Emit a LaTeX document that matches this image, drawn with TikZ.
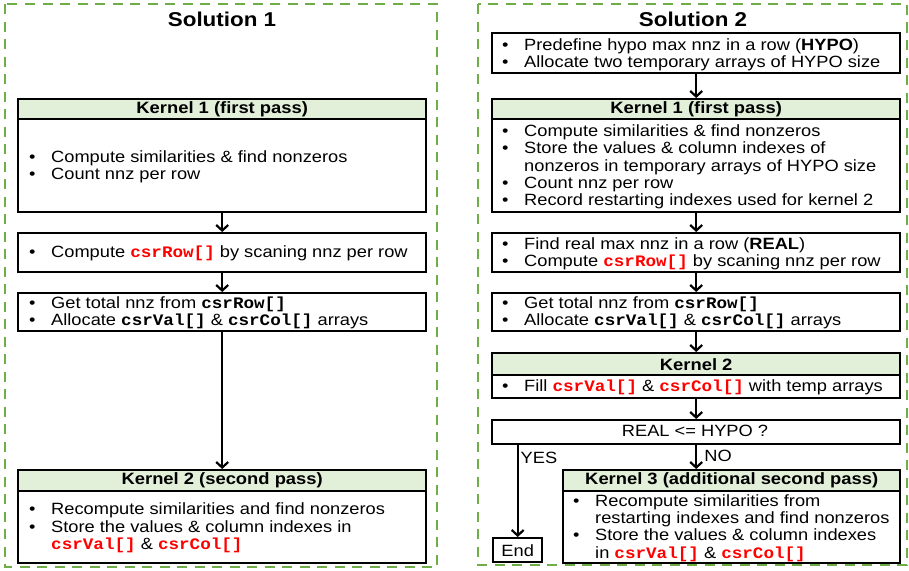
\documentclass[tikz,border=0pt]{standalone}
\usepackage{fontspec}
\setmainfont{Liberation Sans}[FakeStretch=1.12]
\newfontfamily\codefont{Liberation Mono}[FakeStretch=1.1]
\usetikzlibrary{arrows.meta}
\definecolor{dgreen}{HTML}{70AD47}
\definecolor{hdr}{HTML}{E2EFD9}
\definecolor{cred}{HTML}{FF0000}
\newcommand\cd[1]{{\fontsize{16}{17.3}\codefont\bfseries #1}}
\newcommand\rcd[1]{\textcolor{cred}{\cd{#1}}}
\newcommand\itm{\makebox[22pt][l]{\textbullet}}
\newcommand\cnt{\hspace*{22pt}}
\begin{document}
\begin{tikzpicture}[x=1pt,y=-1pt,
  box/.style={draw, line width=2.4pt, inner sep=0pt, anchor=north west},
  hdrbox/.style={box, fill=hdr},
  txt/.style={anchor=west, inner sep=0pt, yshift=-2pt, align=left, font=\fontsize{16.3}{17.3}\selectfont},
  ctxt/.style={inner sep=0pt, font=\fontsize{16.3}{17.3}\selectfont},
  hdrtxt/.style={inner sep=0pt, font=\bfseries\fontsize{16.4}{17}\selectfont},
  ttl/.style={inner sep=0pt, font=\bfseries\fontsize{20}{21}\selectfont},
  arr/.style={line width=2.2pt, -{Straight Barb[length=5.5pt,width=12pt]}},
  frame/.style={draw=dgreen, line width=2.5pt, dash pattern=on 10pt off 7.5pt}]
\useasboundingbox (0,0) rectangle (909,570);

% frames
\draw[frame] (5,4) rectangle (437,567);
\draw[frame] (478,4) rectangle (907,565);

% titles
\node[ttl] (t1) at (222,19) {Solution 1};
\node[ttl] (t2) at (693,19) {Solution 2};

% ---------- Solution 1 ----------
\node[box, minimum width=408pt, minimum height=113pt] (k1L) at (17,98) {};
\node[hdrbox, minimum width=408pt, minimum height=20pt] (k1Lh) at (17,98) {};
\node[hdrtxt] (k1Lht) at (k1Lh.center) {Kernel 1 (first pass)};
\node[txt] (k1Lt) at (29,165) {\itm Compute similarities \& find nonzeros\\ \itm Count nnz per row};

\node[box, minimum width=408pt, minimum height=39pt] (b2L) at (17,232) {};
\node[txt] (b2Lt) at (29,251.5) {\itm Compute \rcd{csrRow[]} by scaning nnz per row};

\node[box, minimum width=408pt, minimum height=38pt] (b3L) at (17,292) {};
\node[txt] (b3Lt) at (29,311) {\itm Get total nnz from \cd{csrRow[]}\\ \itm Allocate \cd{csrVal[]} \& \cd{csrCol[]} arrays};

\node[box, minimum width=408pt, minimum height=93pt] (k2L) at (17,469) {};
\node[hdrbox, minimum width=408pt, minimum height=21pt] (k2Lh) at (17,469) {};
\node[hdrtxt] (k2Lht) at (k2Lh.center) {Kernel 2 (second pass)};
\node[txt] (k2Lt) at (29,526) {\itm Recompute similarities and find nonzeros\\ \itm Store the values \& column indexes in\\ \cnt\rcd{csrVal[]} \& \rcd{csrCol[]}};

\draw[arr] (k1L.south) -- (b2L.north);
\draw[arr] (b2L.south) -- (b3L.north);
\draw[arr] (b3L.south) -- (k2L.north);

% ---------- Solution 2 ----------
\node[box, minimum width=408pt, minimum height=40pt] (preR) at (491,32) {};
\node[txt] (preRt) at (502,53) {\itm Predefine hypo max nnz in a row (\textbf{HYPO})\\ \itm Allocate two temporary arrays of HYPO size};

\node[box, minimum width=408pt, minimum height=113pt] (k1R) at (491,98) {};
\node[hdrbox, minimum width=408pt, minimum height=20pt] (k1Rh) at (491,98) {};
\node[hdrtxt] (k1Rht) at (k1Rh.center) {Kernel 1 (first pass)};
\node[txt] (k1Rt) at (502,165) {\itm Compute similarities \& find nonzeros\\ \itm Store the values \& column indexes of\\ \cnt nonzeros in temporary arrays of HYPO size\\ \itm Count nnz per row\\ \itm Record restarting indexes used for kernel 2};

\node[box, minimum width=408pt, minimum height=39pt] (findR) at (491,232) {};
\node[txt] (findRt) at (502,251.5) {\itm Find real max nnz in a row (\textbf{REAL})\\ \itm Compute \rcd{csrRow[]} by scaning nnz per row};

\node[box, minimum width=408pt, minimum height=38pt] (getR) at (491,292) {};
\node[txt] (getRt) at (502,311) {\itm Get total nnz from \cd{csrRow[]}\\ \itm Allocate \cd{csrVal[]} \& \cd{csrCol[]} arrays};

\node[box, minimum width=408pt, minimum height=45pt] (k2R) at (491,352) {};
\node[hdrbox, minimum width=408pt, minimum height=22pt] (k2Rh) at (491,352) {};
\node[hdrtxt] (k2Rht) at (k2Rh.center) {Kernel 2};
\node[txt] (k2Rt) at (502,385) {\itm Fill \rcd{csrVal[]} \& \rcd{csrCol[]} with temp arrays};

\node[box, minimum width=408pt, minimum height=24pt] (decR) at (491,419) {};
\node[ctxt] (decRt) at (695,431) {REAL <= HYPO ?};

\node[box, minimum width=49pt, minimum height=24pt] (endR) at (492,537) {};
\node[ctxt] (endRt) at (endR.center) {End};

\node[box, minimum width=337pt, minimum height=93pt] (k3R) at (562,469) {};
\node[hdrbox, minimum width=337pt, minimum height=21pt] (k3Rh) at (562,469) {};
\node[hdrtxt] (k3Rht) at (k3Rh.center) {Kernel 3 (additional second pass)};
\node[txt] (k3Rt) at (573,526) {\itm Recompute similarities from\\ \cnt restarting indexes and find nonzeros\\ \itm Store the values \& column indexes\\ \cnt in \rcd{csrVal[]} \& \rcd{csrCol[]}};

\draw[arr] (preR.south) -- (k1R.north);
\draw[arr] (k1R.south) -- (findR.north);
\draw[arr] (findR.south) -- (getR.north);
\draw[arr] (getR.south) -- (k2R.north);
\draw[arr] (k2R.south) -- (decR.north);
\draw[arr] (decR.south) -- (decR.south |- k3R.north);
\draw[arr] (endR.north |- decR.south) -- (endR.north);

\node[ctxt] (yes) at (539,458) {YES};
\node[ctxt] (no) at (718,456) {NO};
\end{tikzpicture}
\end{document}
